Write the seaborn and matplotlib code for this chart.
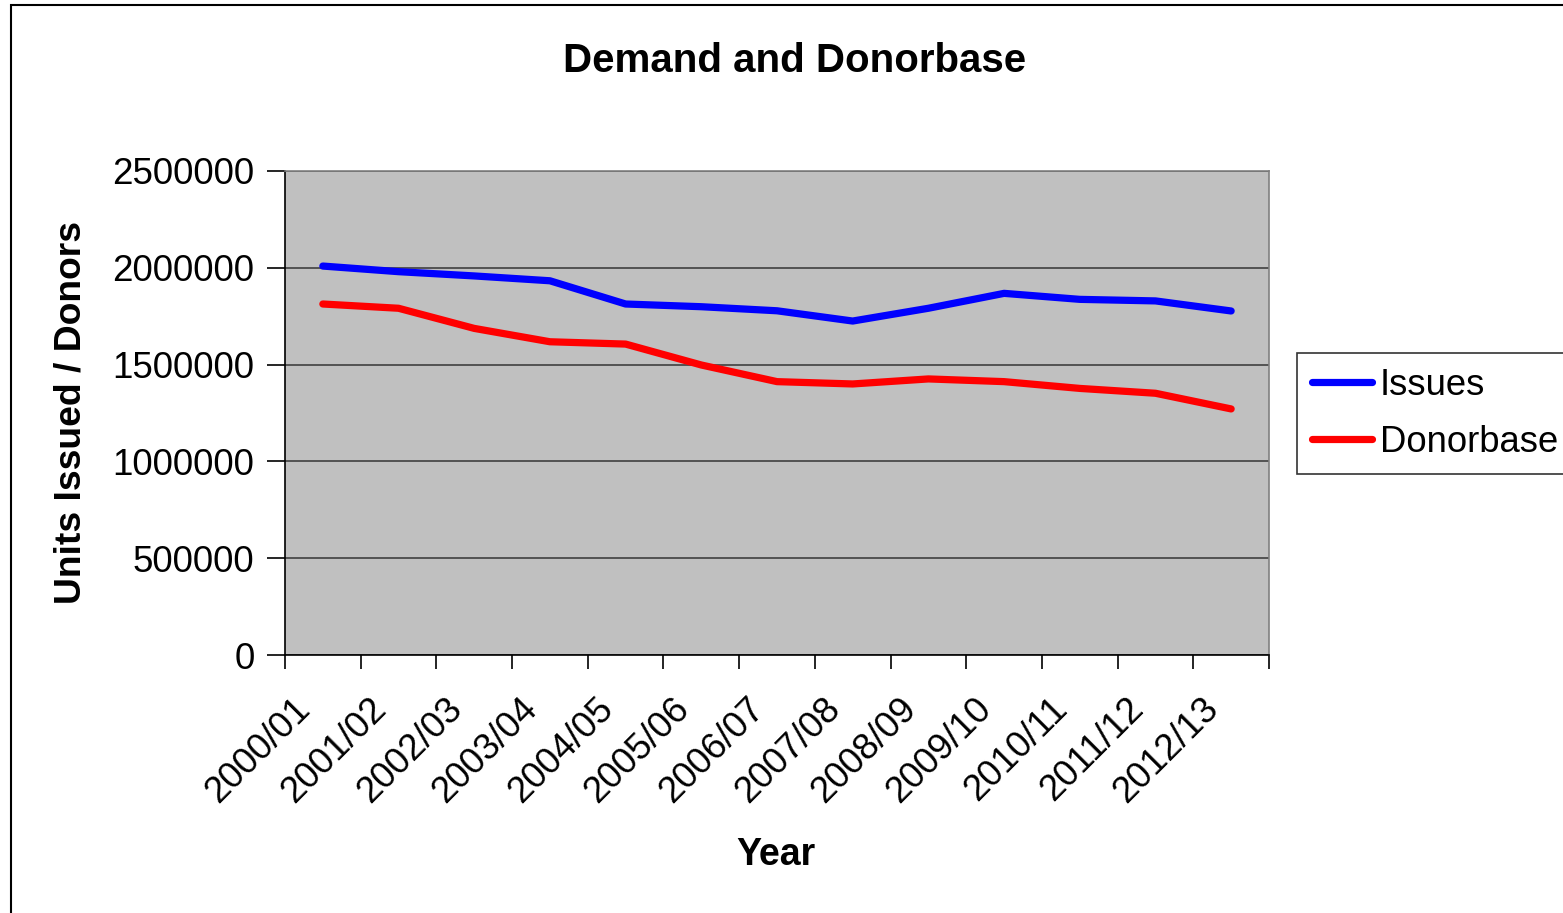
import numpy as np
import pandas as pd
import matplotlib
matplotlib.use("Agg")
import matplotlib.pyplot as plt
import matplotlib.transforms as mtransforms
import seaborn as sns
from matplotlib.patches import Rectangle

years = ["2000/01", "2001/02", "2002/03", "2003/04", "2004/05", "2005/06", "2006/07",
         "2007/08", "2008/09", "2009/10", "2010/11", "2011/12", "2012/13"]
issues = [2009000, 1980000, 1958000, 1933000, 1813000, 1799000, 1778000,
          1725000, 1791000, 1868000, 1837000, 1829000, 1777000]
donorbase = [1813000, 1791000, 1687000, 1618000, 1606000, 1498000, 1412000,
             1400000, 1426000, 1412000, 1377000, 1352000, 1271000]
series_names = ["Issues", "Donorbase"]
colors = ["#0000FF", "#FF0000"]
yticks = [0, 500000, 1000000, 1500000, 2000000, 2500000]

sns.set_theme(style="white")
plt.rcParams["font.family"] = ["Liberation Sans", "DejaVu Sans"]
plt.rcParams["text.color"] = "black"
plt.rcParams["xtick.color"] = "black"
plt.rcParams["ytick.color"] = "black"
plt.rcParams["axes.labelcolor"] = "black"

df = pd.DataFrame({
    "pos": list(range(len(years))) * 2,
    "value": issues + donorbase,
    "series": [series_names[0]] * len(years) + [series_names[1]] * len(years),
})

fig = plt.figure(figsize=(15.63, 9.13), dpi=100)
fig.patch.set_facecolor("white")
ax = fig.add_axes([285 / 1563, 1 - 655 / 913, (1269 - 285) / 1563, (655 - 171) / 913])
ax.set_facecolor("#C0C0C0")

sns.lineplot(data=df, x="pos", y="value", hue="series", palette=colors,
             hue_order=series_names, linewidth=5.2, ax=ax, legend=False,
             solid_capstyle="round", solid_joinstyle="round")

ax.set_xlim(-0.5, len(years) - 0.5)
ax.set_ylim(0, 2500000)
ax.set_yticks(yticks)
ax.set_yticklabels([str(v) for v in yticks], fontsize=26.5)
ax.yaxis.grid(True, color="#404040", linewidth=1.2)
ax.xaxis.grid(False)
ax.set_axisbelow(True)

ax.set_xticks(np.arange(-0.5, len(years), 1.0))
ax.set_xticklabels([""] * (len(years) + 1))
ax.set_xticks(np.arange(len(years)), minor=True)
ax.set_xticklabels(years, minor=True, fontsize=26.5, rotation=45, ha="right",
                   rotation_mode="anchor")
ax.tick_params(axis="x", which="major", length=10, width=1.2, color="black", direction="out", bottom=True)
ax.tick_params(axis="x", which="minor", length=0, pad=22)
ax.tick_params(axis="y", which="major", length=13, width=1.2, color="black", direction="out", left=True, pad=9)

offset = mtransforms.ScaledTranslation(-0.30, -0.06, fig.dpi_scale_trans)
for lab in ax.get_xticklabels(minor=True):
    lab.set_transform(lab.get_transform() + offset)

for side in ["top", "right"]:
    ax.spines[side].set_color("#808080")
    ax.spines[side].set_linewidth(1.2)
for side in ["left", "bottom"]:
    ax.spines[side].set_color("black")
    ax.spines[side].set_linewidth(1.2)

ax.set_xlabel("")
ax.set_ylabel("")

fig.text(795 / 1563, 1 - 61 / 913, "Demand and Donorbase", fontsize=29,
         fontweight="bold", ha="center", va="center")
fig.text(71 / 1563, 1 - 413 / 913, "Units Issued / Donors", fontsize=26.8,
         fontweight="bold", ha="center", va="center", rotation=90)
fig.text(776 / 1563, 1 - 855 / 913, "Year", fontsize=27,
         fontweight="bold", ha="center", va="center")

handles = [plt.Line2D([], [], color=c, linewidth=5.2, solid_capstyle="round") for c in colors]
leg = fig.legend(handles, series_names, loc="upper left",
                 bbox_to_anchor=(1297 / 1563, 1 - 353 / 913), borderaxespad=0,
                 fontsize=26.3, frameon=True, fancybox=False, handlelength=1.65,
                 handletextpad=0.22, labelspacing=0.6, borderpad=0.4)
leg.get_frame().set_edgecolor("black")
leg.get_frame().set_linewidth(1.2)

fig.patches.append(Rectangle((11 / 1563, -0.1), 1.2, 1 - 5 / 913 + 0.1,
                             transform=fig.transFigure, fill=False,
                             edgecolor="black", linewidth=1.5, zorder=-1))

fig.savefig("out.png", dpi=100, facecolor="white")
